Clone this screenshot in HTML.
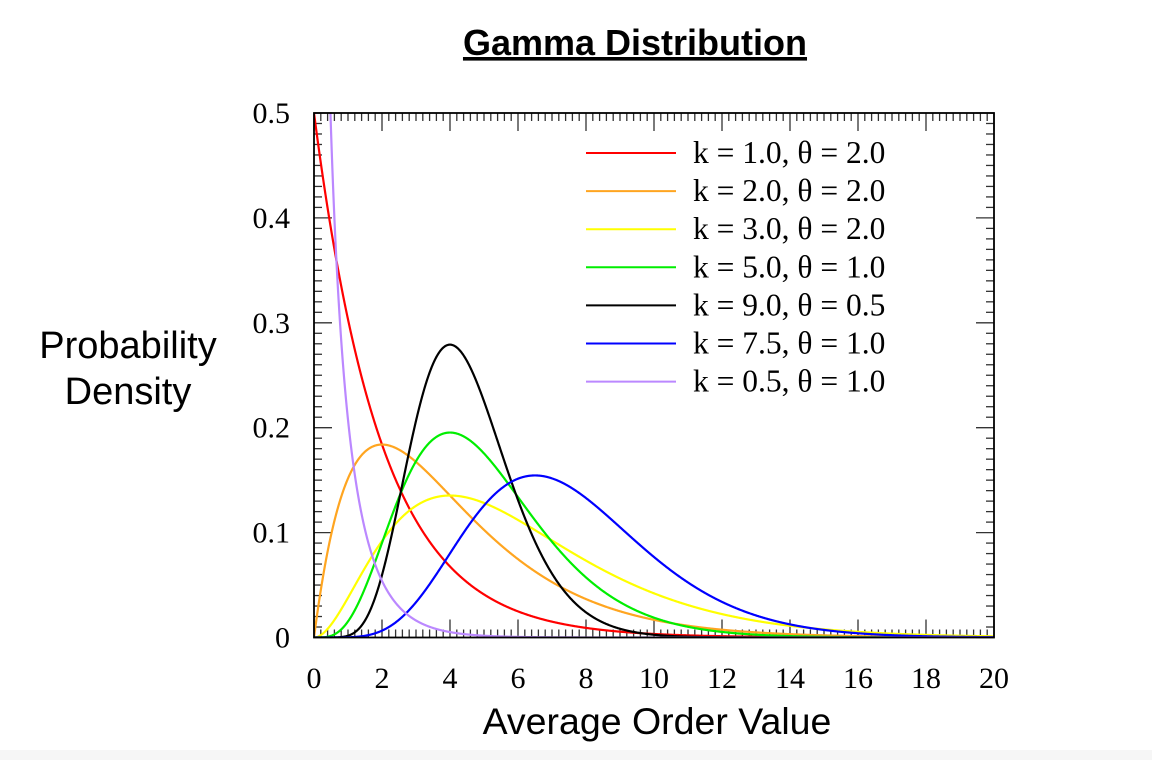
<!DOCTYPE html>
<html><head><meta charset="utf-8"><style>
html,body{margin:0;padding:0;background:#fff;width:1152px;height:760px;overflow:hidden}
svg text{font-family:"Liberation Serif",serif}
</style></head><body>
<svg id="chart" width="1152" height="760" xmlns="http://www.w3.org/2000/svg">
<rect x="0" y="750" width="1152" height="10" fill="#f6f6f6"/>
<text x="635" y="55" text-anchor="middle" font-size="36" font-weight="bold" style="font-family:'Liberation Sans',sans-serif;text-decoration:underline">Gamma Distribution</text>
<text x="128" y="358" text-anchor="middle" font-size="38" style="font-family:'Liberation Sans',sans-serif"><tspan x="128">Probability</tspan><tspan x="128" dy="46">Density</tspan></text>
<text x="657" y="734" text-anchor="middle" font-size="37.5" style="font-family:'Liberation Sans',sans-serif">Average Order Value</text>
<g id="ticks"></g>
<g id="series"></g>
<g id="legend"></g>
<rect x="314" y="113" width="680" height="524.5" fill="none" stroke="#000" stroke-width="1.8"/>
</svg>
<script>
const shapeK = [1.0, 2.0, 3.0, 5.0, 9.0, 7.5, 0.5];
const scaleTheta = [2.0, 2.0, 2.0, 1.0, 0.5, 1.0, 1.0];
const seriesLabels = ["k = 1.0, θ = 2.0","k = 2.0, θ = 2.0","k = 3.0, θ = 2.0","k = 5.0, θ = 1.0","k = 9.0, θ = 0.5","k = 7.5, θ = 1.0","k = 0.5, θ = 1.0"];
const colors = ["#ff0000","#ffa520","#ffff00","#00ee00","#000000","#0000ff","#bb88ff"];
const xTicks = [0,2,4,6,8,10,12,14,16,18,20];
const yTicks = [0,0.1,0.2,0.3,0.4,0.5];
const yTickLabels = ["0","0.1","0.2","0.3","0.4","0.5"];

const X0=314,X1=994,Y0=637.5,Y1=113;
const xs=v=>X0+(v-0)/(20-0)*(X1-X0);
const ys=v=>Y0-(v/0.5)*(Y0-Y1);
const NS="http://www.w3.org/2000/svg";
function mk(t,a,p){const e=document.createElementNS(NS,t);for(const k in a)e.setAttribute(k,a[k]);p.appendChild(e);return e;}
function lgamma(z){const g=7,c=[0.99999999999980993,676.5203681218851,-1259.1392167224028,771.32342877765313,-176.61502916214059,12.507343278686905,-0.13857109526572012,9.9843695780195716e-6,1.5056327351493116e-7];
 if(z<0.5)return Math.log(Math.PI/Math.sin(Math.PI*z))-lgamma(1-z);z-=1;let x=c[0];for(let i=1;i<g+2;i++)x+=c[i]/(z+i);const t=z+g+0.5;return 0.5*Math.log(2*Math.PI)+(z+0.5)*Math.log(t)-t+Math.log(x);}
function pdf(x,k,th){if(x<=0)return k<1?1e9:(k==1?1/th:0);return Math.exp((k-1)*Math.log(x)-x/th-lgamma(k)-k*Math.log(th));}

const tg=document.getElementById('ticks');
for(let i=0;i<=100;i++){const v=i*0.2,x=xs(v),maj=i%10==0,L=maj?18:8;
 const a=mk('line',{x1:x,x2:x,y1:Y0,y2:Y0-L,stroke:'#333','stroke-width':1.3},tg);
 
 const b=mk('line',{x1:x,x2:x,y1:Y1,y2:Y1+L,stroke:'#333','stroke-width':1.3},tg);
 }
for(let i=0;i<=50;i++){const v=i*0.01,y=ys(v),maj=i%10==0,L=maj?18:8;
 const a=mk('line',{x1:X0,x2:X0+L,y1:y,y2:y,stroke:'#333','stroke-width':1.3},tg);
 
 const b=mk('line',{x1:X1,x2:X1-L,y1:y,y2:y,stroke:'#333','stroke-width':1.3},tg);
 }
xTicks.forEach(v=>{const t=mk('text',{x:xs(v),y:688,'text-anchor':'middle','font-size':30},tg);t.textContent=v;
 });
yTicks.forEach((v,i)=>{const t=mk('text',{x:290,y:ys(v)+10,'text-anchor':'end','font-size':30},tg);t.textContent=yTickLabels[i];
 });

const sg=document.getElementById('series');
const cp=mk('clipPath',{id:'clip'},sg);mk('rect',{x:X0,y:Y1,width:X1-X0,height:Y0-Y1},cp);
shapeK.forEach((k,i)=>{let d='';for(let j=0;j<=2000;j++){const v=j*0.01;let p=pdf(v,k,scaleTheta[i]);p=Math.min(p,1);d+=(j?'L':'M')+xs(v).toFixed(2)+','+ys(p).toFixed(2);}
 const e=mk('path',{d:d,fill:'none',stroke:colors[i],'stroke-width':2.2,'clip-path':'url(#clip)'},sg);
 });

const lg=document.getElementById('legend');
seriesLabels.forEach((s,i)=>{const y=153+i*38.1;
 const l=mk('line',{x1:586,x2:676,y1:y,y2:y,stroke:colors[i],'stroke-width':2},lg);
 
 const t=mk('text',{x:693,y:y+10,'font-size':31.5},lg);t.textContent=s;
 });
</script>
</body></html>
